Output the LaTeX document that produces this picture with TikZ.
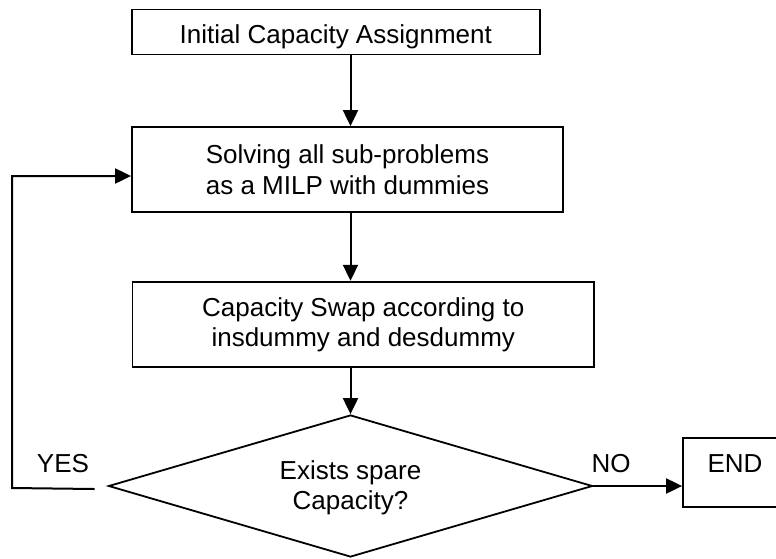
\documentclass[tikz,border=0pt]{standalone}
\usepackage{fontspec}
\setmainfont{Liberation Sans}
\usetikzlibrary{arrows.meta,shapes.geometric}
\begin{document}
\begin{tikzpicture}[x=1pt,y=-1pt,
  box/.style={draw,line width=1.8pt,rectangle,inner sep=0pt,align=center,font=\fontsize{26}{30}\selectfont},
  lbl/.style={inner sep=0pt,anchor=base,font=\fontsize{26}{30}\selectfont},
  conn/.style={line width=2pt},
  arr/.style={conn,-{Triangle[length=16pt,width=15pt]}}]
\useasboundingbox (0,0) rectangle (776,558);
\node[box,minimum width=408pt,minimum height=45pt,text height=22pt,text depth=0pt] (b1) at (335.8,32) {Initial Capacity Assignment};
\node[box,minimum width=431pt,minimum height=85pt,font=\fontsize{26}{31.5}\selectfont] (b2) at (347.5,169.5) {Solving all sub-problems\\as a MILP with dummies};
\node[box,minimum width=461.5pt,minimum height=85.6pt] (b3) at (363.25,324.5) {Capacity Swap according to\\insdummy and desdummy};
\node[draw,diamond,line width=1.8pt,minimum width=484pt,minimum height=142pt,inner sep=0pt] (dia) at (350.5,486) {};
\node[lbl,anchor=center,align=center] (dt) at (350.5,488) {Exists spare\\Capacity?};
\node[box,minimum width=104pt,minimum height=69pt,text height=10pt,text depth=10pt] (endb) at (735,472.5) {END};
\node[lbl] (yes) at (63,472.7) {YES};
\node[lbl] (no) at (611,472.7) {NO};
\draw[arr] (dia.north |- b1.south) -- (dia.north |- b2.north);
\draw[arr] (dia.north |- b2.south) -- (dia.north |- b3.north);
\draw[arr] (b3.south -| dia.north) -- (dia.north);
\coordinate (ys) at ([xshift=-13pt,yshift=-3pt]dia.west);
\coordinate (yc) at (12,488);
\draw[arr] (ys) -- (yc) |- ([yshift=-6.5pt]b2.west);
\draw[arr] (dia.east) -- (dia.east -| endb.west);
\end{tikzpicture}
\end{document}
